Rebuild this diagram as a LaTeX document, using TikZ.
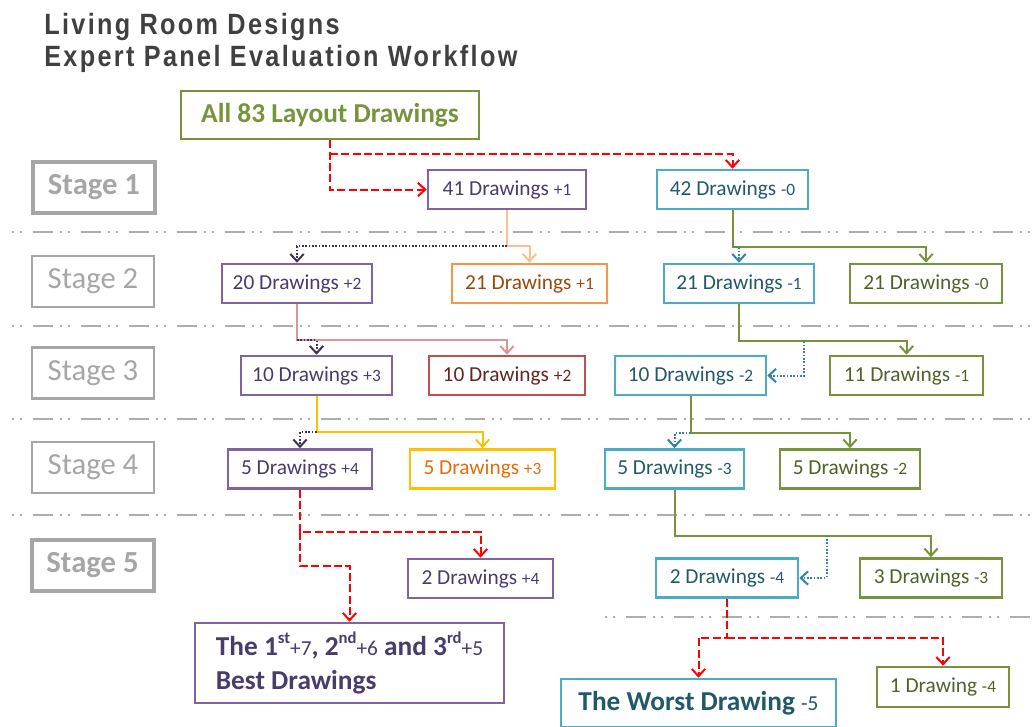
\documentclass[tikz,border=0pt]{standalone}
\usepackage{fontspec}
\setmainfont{Carlito}
\newfontfamily\titlefont{Liberation Sans}[FakeStretch=0.86,LetterSpace=8]
\usepackage{tikz}
\usetikzlibrary{arrows.meta}

\definecolor{purp}{HTML}{8064A2}
\definecolor{purptext}{HTML}{4A3B6A}
\definecolor{purpdot}{HTML}{403152}
\definecolor{teal}{HTML}{4BACC6}
\definecolor{tealtext}{HTML}{215968}
\definecolor{tealdot}{HTML}{31859C}
\definecolor{grn}{HTML}{77933C}
\definecolor{grntext}{HTML}{4F6228}
\definecolor{orng}{HTML}{F79646}
\definecolor{orngtext}{HTML}{984807}
\definecolor{redb}{HTML}{C0504D}
\definecolor{redtext}{HTML}{632523}
\definecolor{yel}{HTML}{FFC000}
\definecolor{yeltext}{HTML}{E46C0A}
\definecolor{peach}{HTML}{FAC090}
\definecolor{rose}{HTML}{D99694}
\definecolor{stagegray}{HTML}{A6A6A6}
\definecolor{sepgray}{HTML}{ADADAD}
\definecolor{titlegray}{HTML}{404040}

\newcommand{\scoretxt}[1]{{\mdseries\fontsize{13}{15}\selectfont #1}}
\newcommand{\bigscore}[1]{{\mdseries\fontsize{16}{19}\selectfont #1}}
\newcommand{\ordsup}[1]{\raisebox{0.42em}{\fontsize{12.5}{13}\selectfont #1}}

\begin{document}
\begin{tikzpicture}[x=0.75pt, y=-0.75pt,
    box/.style={draw, rectangle, line width=1.9pt, minimum height=29.25pt, inner sep=0pt, font=\fontsize{16}{19}\selectfont},
    pbox/.style={box, draw=purp, text=purptext},
    tbox/.style={box, draw=teal, text=tealtext},
    gbox/.style={box, draw=grn, text=grntext},
    stagebox/.style={draw=stagegray, text=stagegray, line width=2.2pt, minimum width=91.5pt, minimum height=38.25pt, inner sep=0pt, font=\fontsize{23}{27}\selectfont},
    stagebold/.style={stagebox, line width=3pt, font=\bfseries\fontsize{23}{27}\selectfont},
    titletext/.style={anchor=base west, inner sep=0pt, text=titlegray, font=\titlefont\bfseries\fontsize{22}{26}\selectfont},
    sep/.style={draw=sepgray, line width=2.2pt, dash pattern=on 1.5pt off 4.5pt on 1.5pt off 8pt on 15pt off 5.5pt},
    arr/.style={-{Straight Barb[length=5.5pt,width=10pt]}},
    link/.style={line width=1.5pt, arr},
    reddash/.style={link, draw=red, dash pattern=on 6pt off 2.5pt},
    dotlink/.style={link, dash pattern=on 1.2pt off 1.3pt}]

    \useasboundingbox (0,0) rectangle (1034,726);

    \foreach \y in {232,326,419,515}
        \draw[sep] (12,\y) -- (1034,\y);
    \draw[sep] (605,617) -- (1034,617);

    \node[titletext] (title1) at (44,34) {Living Room Designs};
    \node[titletext] (title2) at (44,66) {Expert Panel Evaluation Workflow};

    \node[draw=grn, text=grn, line width=1.9pt, minimum width=223.5pt, minimum height=36pt, font=\bfseries\fontsize{20.5}{24}\selectfont] (all) at (330,115) {All 83 Layout Drawings};

    \node[stagebold] (st1) at (94,187.5) {Stage 1};
    \node[stagebox] (st2) at (93,281.5) {Stage 2};
    \node[stagebox] (st3) at (93,373) {Stage 3};
    \node[stagebox] (st4) at (93,467.5) {Stage 4};
    \node[stagebold] (st5) at (92.5,565) {Stage 5};

    \node[pbox, minimum width=118.5pt] (n41) at (507,189.5) {41 Drawings \scoretxt{+1}};
    \node[tbox, minimum width=113.25pt] (n42) at (732.5,189.5) {42 Drawings \scoretxt{-0}};

    \node[pbox, minimum width=112.5pt] (n20) at (297,283.5) {20 Drawings \scoretxt{+2}};
    \node[box, draw=orng, text=orngtext, minimum width=116.25pt] (n21p) at (529.5,283.5) {21 Drawings \scoretxt{+1}};
    \node[tbox, minimum width=112.5pt] (n21m) at (739,283.5) {21 Drawings \scoretxt{-1}};
    \node[gbox, minimum width=114pt] (n21g) at (926,283.5) {21 Drawings \scoretxt{-0}};

    \node[pbox, minimum width=113.25pt] (n10p) at (316.5,375.5) {10 Drawings \scoretxt{+3}};
    \node[box, draw=redb, text=redtext, minimum width=117pt] (n10r) at (507,375.5) {10 Drawings \scoretxt{+2}};
    \node[tbox, minimum width=113.25pt] (n10m) at (690.5,375.5) {10 Drawings \scoretxt{-2}};
    \node[gbox, minimum width=114.75pt] (n11) at (906.5,375.5) {11 Drawings \scoretxt{-1}};

    \node[pbox, minimum width=108pt] (n5p) at (300,469) {5 Drawings \scoretxt{+4}};
    \node[box, draw=yel, text=yeltext, minimum width=108.75pt] (n5y) at (482.5,469) {5 Drawings \scoretxt{+3}};
    \node[tbox, minimum width=104.25pt] (n5m) at (674.5,469) {5 Drawings \scoretxt{-3}};
    \node[gbox, minimum width=105pt] (n5g) at (850,469) {5 Drawings \scoretxt{-2}};

    \node[pbox, minimum width=108.75pt] (n2p) at (480.5,578.5) {2 Drawings \scoretxt{+4}};
    \node[tbox, minimum width=106.5pt] (n2m) at (727,578) {2 Drawings \scoretxt{-4}};
    \node[gbox, minimum width=106.5pt] (n3g) at (931,578) {3 Drawings \scoretxt{-3}};

    \node[pbox, minimum width=231.75pt, minimum height=60pt, inner xsep=12pt, align=left, font=\bfseries\fontsize{20.5}{25.5}\selectfont] (best) at (349.5,663)
        {The 1\ordsup{st}\bigscore{+7}, 2\ordsup{nd}\bigscore{+6} and 3\ordsup{rd}\bigscore{+5}\\Best Drawings};
    \node[tbox, minimum width=206.25pt, minimum height=36pt, font=\bfseries\fontsize{20.5}{24}\selectfont] (worst) at (698.5,703) {The Worst Drawing \bigscore{-5}};
    \node[gbox, minimum width=99pt, minimum height=30pt] (n1g) at (943,687) {1 Drawing \scoretxt{-4}};

    \draw[reddash] (all.south) -- ++(0,14) coordinate (j0) |- (n41.west);
    \draw[reddash] (j0) -| (n42.north);

    \draw[link, peach] (n41.south) -- ++(0,36) coordinate (j1) -| (n21p.north);
    \draw[dotlink, purpdot] (j1) -| (n20.north);
    \draw[link, grn] (n42.south) -- ++(0,37) coordinate (j2) -| (n21g.north);
    \draw[dotlink, tealdot] (j2) -| (n21m.north);

    \draw[link, rose] (n20.south) -- ++(0,36) coordinate (j3) -| (n10r.north);
    \draw[dotlink, purpdot] (j3) -| (n10p.north);
    \draw[link, grn] (n21m.south) -- ++(0,37) -- ++(65,0) coordinate (j4) -| (n11.north);
    \draw[dotlink, tealdot] (j4) |- (n10m.east);

    \draw[link, yel] (n10p.south) -- ++(0,36) coordinate (j5) -| (n5y.north);
    \draw[dotlink, purpdot] (j5) -| (n5p.north);
    \draw[link, grn] (n10m.south) -- ++(0,37) coordinate (j6) -| (n5g.north);
    \draw[dotlink, tealdot] (j6) -| (n5m.north);

    \draw[reddash] (n5p.south) -- ++(0,42) coordinate (j7) -| (n2p.north);
    \draw[reddash] (j7) -- ++(0,34) -| (best.north);
    \draw[link, grn] (n5m.south) -- ++(0,46) -- ++(152,0) coordinate (j8) -| (n3g.north);
    \draw[dotlink, tealdot] (j8) |- (n2m.east);

    \draw[reddash] (n2m.south) -- ++(0,39) coordinate (j9) -| (worst.north);
    \draw[reddash] (j9) -| (n1g.north);

\end{tikzpicture}
\end{document}
